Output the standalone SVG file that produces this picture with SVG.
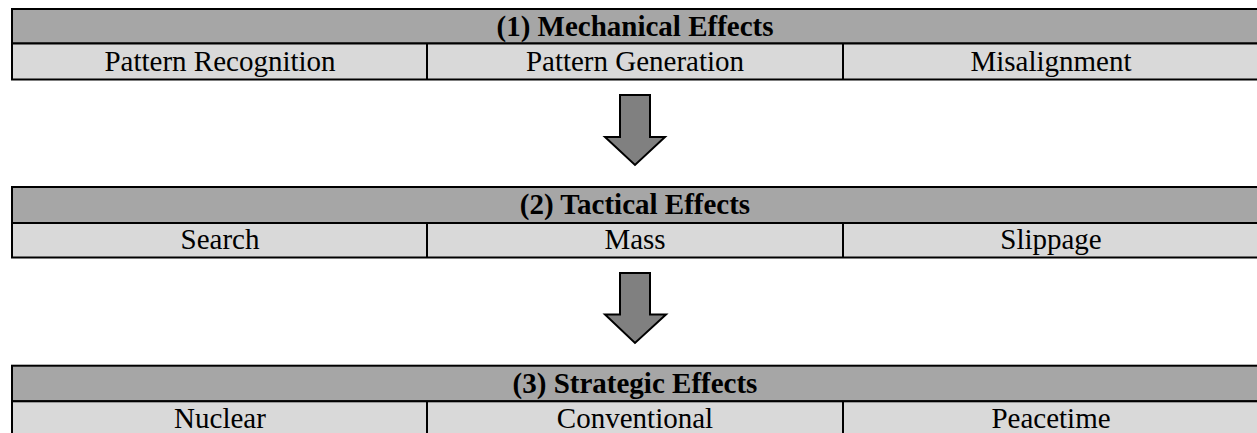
<svg xmlns="http://www.w3.org/2000/svg" width="1257" height="433" viewBox="0 0 1257 433">
<style>
.hdr{fill:#a6a6a6;stroke:#000;stroke-width:2}
.row{fill:#d9d9d9;stroke:#000;stroke-width:2}
.ln{stroke:#000;stroke-width:2}
.ht{font-family:"Liberation Serif","Times New Roman",serif;font-size:29px;font-weight:bold;text-anchor:middle;fill:#000}
.ct{font-family:"Liberation Serif","Times New Roman",serif;font-size:29px;text-anchor:middle;fill:#000}
.arr{fill:#808080;stroke:#000;stroke-width:2;stroke-linejoin:miter}
</style>
<rect width="1257" height="433" fill="#fff"/>
<g id="table1">
<rect class="hdr" x="12" y="9" width="1248" height="34.5"/>
<rect class="row" x="12" y="43.5" width="1248" height="36"/>
<line class="ln" x1="427" y1="43.5" x2="427" y2="79.5"/>
<line class="ln" x1="843" y1="43.5" x2="843" y2="79.5"/>
<text class="ht" x="635" y="36">(1) Mechanical Effects</text>
<text class="ct" x="220" y="71">Pattern Recognition</text>
<text class="ct" x="635" y="71">Pattern Generation</text>
<text class="ct" x="1051" y="71">Misalignment</text>
</g>
<g id="table2">
<rect class="hdr" x="12" y="187" width="1248" height="36"/>
<rect class="row" x="12" y="223" width="1248" height="34.5"/>
<line class="ln" x1="427" y1="223" x2="427" y2="257.5"/>
<line class="ln" x1="843" y1="223" x2="843" y2="257.5"/>
<text class="ht" x="635" y="214">(2) Tactical Effects</text>
<text class="ct" x="220" y="249">Search</text>
<text class="ct" x="635" y="249">Mass</text>
<text class="ct" x="1051" y="249">Slippage</text>
</g>
<g id="table3">
<rect class="hdr" x="12" y="365.7" width="1248" height="35.6"/>
<rect class="row" x="12" y="401.3" width="1248" height="40"/>
<line class="ln" x1="427" y1="401.3" x2="427" y2="441"/>
<line class="ln" x1="843" y1="401.3" x2="843" y2="441"/>
<text class="ht" x="635" y="393">(3) Strategic Effects</text>
<text class="ct" x="220" y="428">Nuclear</text>
<text class="ct" x="635" y="428">Conventional</text>
<text class="ct" x="1051" y="428">Peacetime</text>
</g>
<g id="connectors">
<polygon class="arr" points="620,95 650,95 650,137 665,137 635,165 605,137 620,137"/>
<polygon class="arr" points="620,273 650,273 650,314.5 666,314.5 635,343 605,314.5 620,314.5"/>
</g>
</svg>
